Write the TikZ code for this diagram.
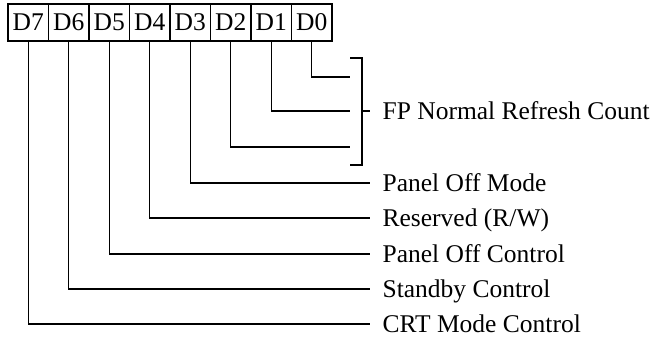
\documentclass[tikz,border=0pt]{standalone}
\usepackage{fontspec}
\setmainfont{Liberation Serif}
\begin{document}
\begin{tikzpicture}[x=1pt,y=-1pt,line width=1.3pt,
  bitcell/.style={draw,rectangle,minimum width=40.5pt,minimum height=37pt,inner sep=0pt,font=\fontsize{25.5}{30}\selectfont},
  lbl/.style={anchor=base west,inner sep=0pt,font=\fontsize{25.5}{30}\selectfont}]
\useasboundingbox (0,0) rectangle (652,339);
% register cells
\foreach \n [count=\i from 0] in {7,6,5,4,3,2,1,0}{
  \node[bitcell] (d\n) at ({28.25+40.5*\i},22.5) {D\n};
}
% end points of field lines
\coordinate (e0) at (350,77);
\coordinate (e1) at (350,111);
\coordinate (e2) at (350,147);
\coordinate (e3) at (370,183);
\coordinate (e4) at (370,218);
\coordinate (e5) at (370,254);
\coordinate (e6) at (370,289);
\coordinate (e7) at (370,324);
\foreach \n in {0,...,7}{
  \draw (d\n.south) |- (e\n);
}
% bracket
\coordinate (bt) at (350,58);
\coordinate (bb) at (350,165);
\coordinate (bm) at (370,111);
\draw (bt) -- (362,58) -- (362,165) -- (bb);
\draw (362,111) -- (bm);
% labels
\node[lbl] (lfp) at (382,119.5) {FP Normal Refresh Count};
\node[lbl] (l3) at (382,191.5) {Panel Off Mode};
\node[lbl] (l4) at (382,226.5) {Reserved (R/W)};
\node[lbl] (l5) at (382,262.5) {Panel Off Control};
\node[lbl] (l6) at (382,297.5) {Standby Control};
\node[lbl] (l7) at (382,332.5) {CRT Mode Control};
\end{tikzpicture}
\end{document}
